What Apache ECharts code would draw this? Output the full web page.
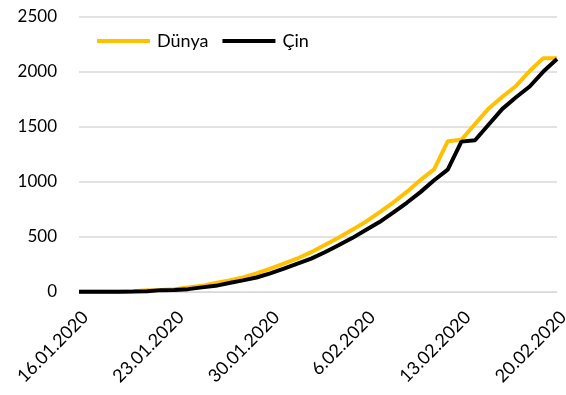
<!DOCTYPE html>
<html><head><meta charset="utf-8">
<script src="https://cdn.jsdelivr.net/npm/echarts@6/dist/echarts.min.js"></script>
<style>html,body{margin:0;padding:0;background:#fff}#c{width:566px;height:395px}</style>
</head><body><div id="c"></div>
<script>
const dates = ["16.01.2020","17.01.2020","18.01.2020","19.01.2020","20.01.2020","21.01.2020","22.01.2020","23.01.2020","24.01.2020","25.01.2020","26.01.2020","27.01.2020","28.01.2020","29.01.2020","30.01.2020","31.01.2020","1.02.2020","2.02.2020","3.02.2020","4.02.2020","5.02.2020","6.02.2020","7.02.2020","8.02.2020","9.02.2020","10.02.2020","11.02.2020","12.02.2020","13.02.2020","14.02.2020","15.02.2020","16.02.2020","17.02.2020","18.02.2020","19.02.2020","20.02.2020"];
const dunya = [2,2,3,4,6,17,18,26,42,56,82,106,132,170,213,259,305,362,427,493,565,639,724,813,910,1018,1115,1370,1384,1527,1669,1775,1873,2009,2126,2126];
const cin = [2,2,2,3,4,6,17,18,26,42,56,82,106,132,170,213,259,304,361,425,490,563,636,722,811,908,1016,1113,1367,1380,1523,1665,1770,1868,2004,2118];
const yTicks = [0,500,1000,1500,2000,2500];

const font = "Lato, 'Open Sans', sans-serif";
const chart = echarts.init(document.getElementById('c'), null, {renderer:'canvas'});
chart.setOption({
  animation:false,
  textStyle:{fontFamily:font},
  grid:{left:79,right:9,top:17,bottom:103,containLabel:false,outerBoundsMode:'none'},
  legend:{
    left:92, top:27, itemWidth:53, itemHeight:4, itemGap:14, icon:'rect',
    textStyle:{fontFamily:font,fontSize:18,color:'#000',padding:[0,0,0,2]},
    data:['Dünya','Çin']
  },
  xAxis:{
    type:'category', data:dates, boundaryGap:false,
    axisLine:{lineStyle:{color:'#d9d9d9',width:1}},
    axisTick:{show:false},
    axisLabel:{interval:6,rotate:45,fontFamily:font,fontSize:18,color:'#000',margin:16,verticalAlign:'top'}
  },
  yAxis:{
    type:'value', min:yTicks[0], max:yTicks[yTicks.length-1], interval:500,
    axisLine:{show:false}, axisTick:{show:false},
    splitLine:{lineStyle:{color:'#d9d9d9',width:1.5}},
    axisLabel:{fontFamily:font,fontSize:17,color:'#000',margin:22,formatter:function(v){return String(v);}}
  },
  series:[
    {name:'Dünya',type:'line',data:dunya,symbol:'none',lineStyle:{width:4,color:'#ffc000'},itemStyle:{color:'#ffc000'}},
    {name:'Çin',type:'line',data:cin,symbol:'none',lineStyle:{width:4,color:'#000000'},itemStyle:{color:'#000000'}}
  ]
});
</script></body></html>
